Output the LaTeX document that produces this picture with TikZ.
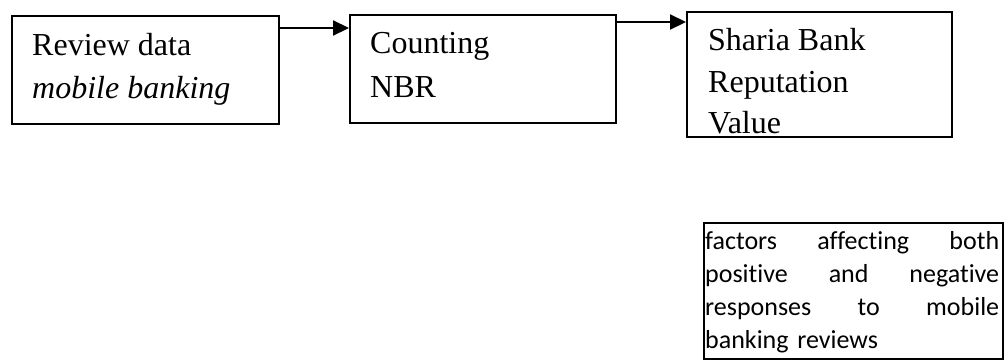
\documentclass[tikz,border=0pt]{standalone}
\usepackage{fontspec}
\setmainfont{Liberation Serif}
\newfontfamily\calfont[Ligatures={NoCommon}]{Carlito}
\usetikzlibrary{arrows.meta,calc}
\begin{document}
\begin{tikzpicture}[x=1pt,y=-1pt,
  box/.style={draw=black,line width=1.6pt,inner sep=0pt,anchor=north west},
  txt/.style={inner sep=0pt,anchor=base west,font=\fontsize{32}{42}\selectfont},
  arr/.style={line width=2.2pt,-{Triangle[length=16pt,width=15pt]}}]
\useasboundingbox (0,0) rectangle (1005,360);
\node[box,minimum width=267pt,minimum height=108pt] (b1) at (11,15) {};
\node[box,minimum width=266pt,minimum height=108pt] (b2) at (349,14) {};
\node[box,minimum width=265pt,minimum height=125pt] (b3) at (686,11) {};
\node[box,minimum width=299pt,minimum height=136pt] (b4) at (703,222) {};
\node[txt] (t1a) at (32,55) {Review data};
\node[txt] (t1b) at (32,98) {\itshape mobile banking};
\node[txt] (t2a) at (370,53) {Counting};
\node[txt] (t2b) at (370,97) {NBR};
\node[txt] (t3a) at (708,50) {Sharia Bank};
\node[txt] (t3b) at (708,92) {Reputation};
\node[txt] (t3c) at (708,133) {Value};
\node[inner sep=0pt,anchor=base west,text width=294pt,align=left,
  font=\calfont\fontsize{26}{33}\selectfont] (t4) at (705,249)
  {factors\hfill affecting\hfill both\\positive\hfill and\hfill negative\\responses\hfill to\hfill mobile\\banking reviews};
\coordinate (a1s) at ($(b1.north east)+(0,13)$);
\draw[arr] (a1s) -- (a1s -| b2.west);
\coordinate (a2s) at ($(b2.north east)+(0,8)$);
\draw[arr] (a2s) -- (a2s -| b3.west);
\end{tikzpicture}
\end{document}
